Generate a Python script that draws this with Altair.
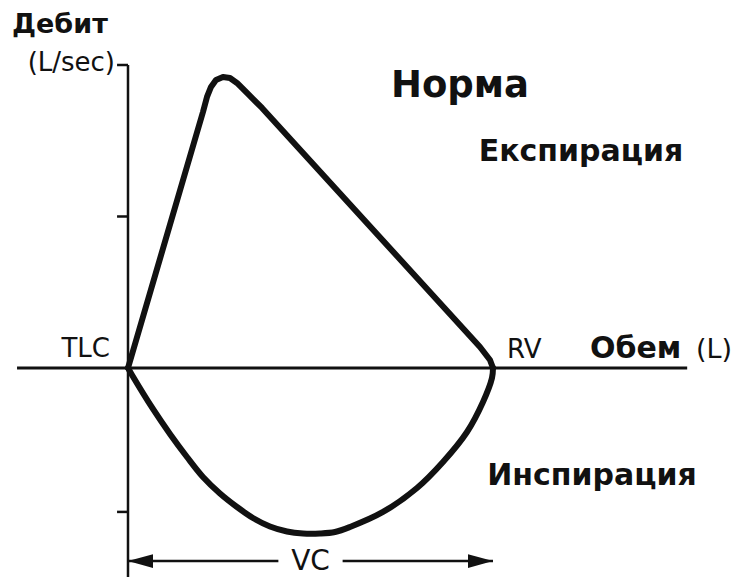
import altair as alt
import pandas as pd

# Normal flow-volume loop: volume in litres from TLC (0) to RV (5), flow in L/s
exp_volume = [0.0, 1.027, 1.082, 1.137, 1.205, 1.301, 1.397, 1.493, 1.630, 1.836, 4.822, 4.959, 5.0]
exp_flow = [0.0, 8.449, 8.944, 9.274, 9.505, 9.604, 9.571, 9.406, 9.076, 8.581, 0.693, 0.264, 0.0]

insp_volume = [0.0, 0.055, 0.342, 0.575, 0.808, 1.027, 1.260, 1.493, 1.712, 1.945, 2.178, 2.397,
               2.630, 2.836, 3.041, 3.493, 3.959, 4.315, 4.644, 4.863, 4.986, 5.0]
insp_flow = [0.0, -0.231, -1.353, -2.178, -2.937, -3.597, -4.142, -4.587, -4.950, -5.231, -5.396, -5.462,
             -5.462, -5.413, -5.248, -4.752, -3.960, -3.102, -2.112, -1.122, -0.330, 0.0]

flow_ticks = [10.0, 5.0, -4.75]
vc_range = [0.0, 5.0]
vc_level = -6.37

volume_axis = [-1.52, 7.66]
flow_axis = [10.0, -6.9]

X_DOMAIN = [-1.7534, 8.3973]
Y_DOMAIN = [-6.898, 12.145]
INK = "#111111"
FONT = "DejaVu Sans"

xs = alt.Scale(domain=X_DOMAIN, nice=False, zero=False)
ys = alt.Scale(domain=Y_DOMAIN, nice=False, zero=False)


def X(field="v"):
    return alt.X(f"{field}:Q", scale=xs, axis=None)


def Y(field="f"):
    return alt.Y(f"{field}:Q", scale=ys, axis=None)


exp_df = pd.DataFrame({"v": exp_volume, "f": exp_flow, "i": range(len(exp_volume))})
insp_df = pd.DataFrame({"v": insp_volume, "f": insp_flow, "i": range(len(insp_volume))})

expiration = alt.Chart(exp_df).mark_line(
    color=INK, strokeWidth=6, strokeJoin="round", strokeCap="round"
).encode(x=X(), y=Y(), order="i:Q")

inspiration = alt.Chart(insp_df).mark_line(
    color=INK, strokeWidth=6, strokeJoin="round", strokeCap="round", interpolate="catmull-rom"
).encode(x=X(), y=Y(), order="i:Q")

# Axes drawn as rules
h_axis = alt.Chart(pd.DataFrame({"v": [volume_axis[0]], "v2": [volume_axis[1]], "f": [0.0]})).mark_rule(
    color=INK, strokeWidth=3
).encode(x=X(), x2="v2", y=Y())

v_axis = alt.Chart(pd.DataFrame({"v": [0.0], "f": [flow_axis[0]], "f2": [flow_axis[1]]})).mark_rule(
    color=INK, strokeWidth=2.5
).encode(x=X(), y=Y(), y2="f2")

tick_df = pd.DataFrame({"f": flow_ticks, "v": [0.0] * len(flow_ticks), "v2": [-0.15] * len(flow_ticks)})
ticks = alt.Chart(tick_df).mark_rule(color=INK, strokeWidth=2.5).encode(x=X(), x2="v2", y=Y())

# VC arrow with a gap for its label
vc_mid = (vc_range[0] + vc_range[1]) / 2
gap = 0.44
vc_df = pd.DataFrame({
    "v": [vc_range[0], vc_mid + gap],
    "v2": [vc_mid - gap, vc_range[1]],
    "f": [vc_level, vc_level],
})
vc_line = alt.Chart(vc_df).mark_rule(color=INK, strokeWidth=2.5).encode(x=X(), x2="v2", y=Y())

left_head = alt.Chart(pd.DataFrame({"v": [vc_range[0]], "f": [vc_level]})).mark_point(
    shape="M -1 0 L 1 -0.55 L 1 0.55 Z", filled=True, color=INK, opacity=1, size=625, xOffset=12.5
).encode(x=X(), y=Y())
right_head = alt.Chart(pd.DataFrame({"v": [vc_range[1]], "f": [vc_level]})).mark_point(
    shape="M 1 0 L -1 -0.55 L -1 0.55 Z", filled=True, color=INK, opacity=1, size=625, xOffset=-12.5
).encode(x=X(), y=Y())

vc_text = alt.Chart(pd.DataFrame({"v": [vc_mid], "f": [vc_level], "t": ["VC"]})).mark_text(
    font=FONT, fontSize=28, color=INK, align="center", baseline="middle", dy=1
).encode(x=X(), y=Y(), text="t:N")


def label(text, x, y, size, bold=False, align="left"):
    return alt.Chart(pd.DataFrame({"t": [text]})).mark_text(
        font=FONT, fontSize=size, fontWeight="bold" if bold else "normal",
        color=INK, align=align, baseline="alphabetic"
    ).encode(x=alt.value(x), y=alt.value(y), text="t:N")


labels = [
    label("Дебит", 12, 33, 27, bold=True),
    label("(L/sec)", 115, 71, 26, align="right"),
    label("Норма", 460, 97, 37, bold=True, align="center"),
    label("Експирация", 581, 161, 30, bold=True, align="center"),
    label("Инспирация", 592, 485, 30, bold=True, align="center"),
    label("TLC", 110, 357, 26, align="right"),
    label("RV", 507, 358, 26),
    label("Обем", 590, 358, 30, bold=True),
    label("(L)", 696, 358, 27),
]

chart = alt.layer(
    h_axis, v_axis, ticks, vc_line, left_head, right_head, vc_text,
    expiration, inspiration, *labels
).properties(
    width=741, height=577, padding=0, autosize=alt.AutoSizeParams(type="none"),
    background="white"
).configure_view(stroke=None)

chart.save("out.html", embed_options={"renderer": "svg", "actions": False})
